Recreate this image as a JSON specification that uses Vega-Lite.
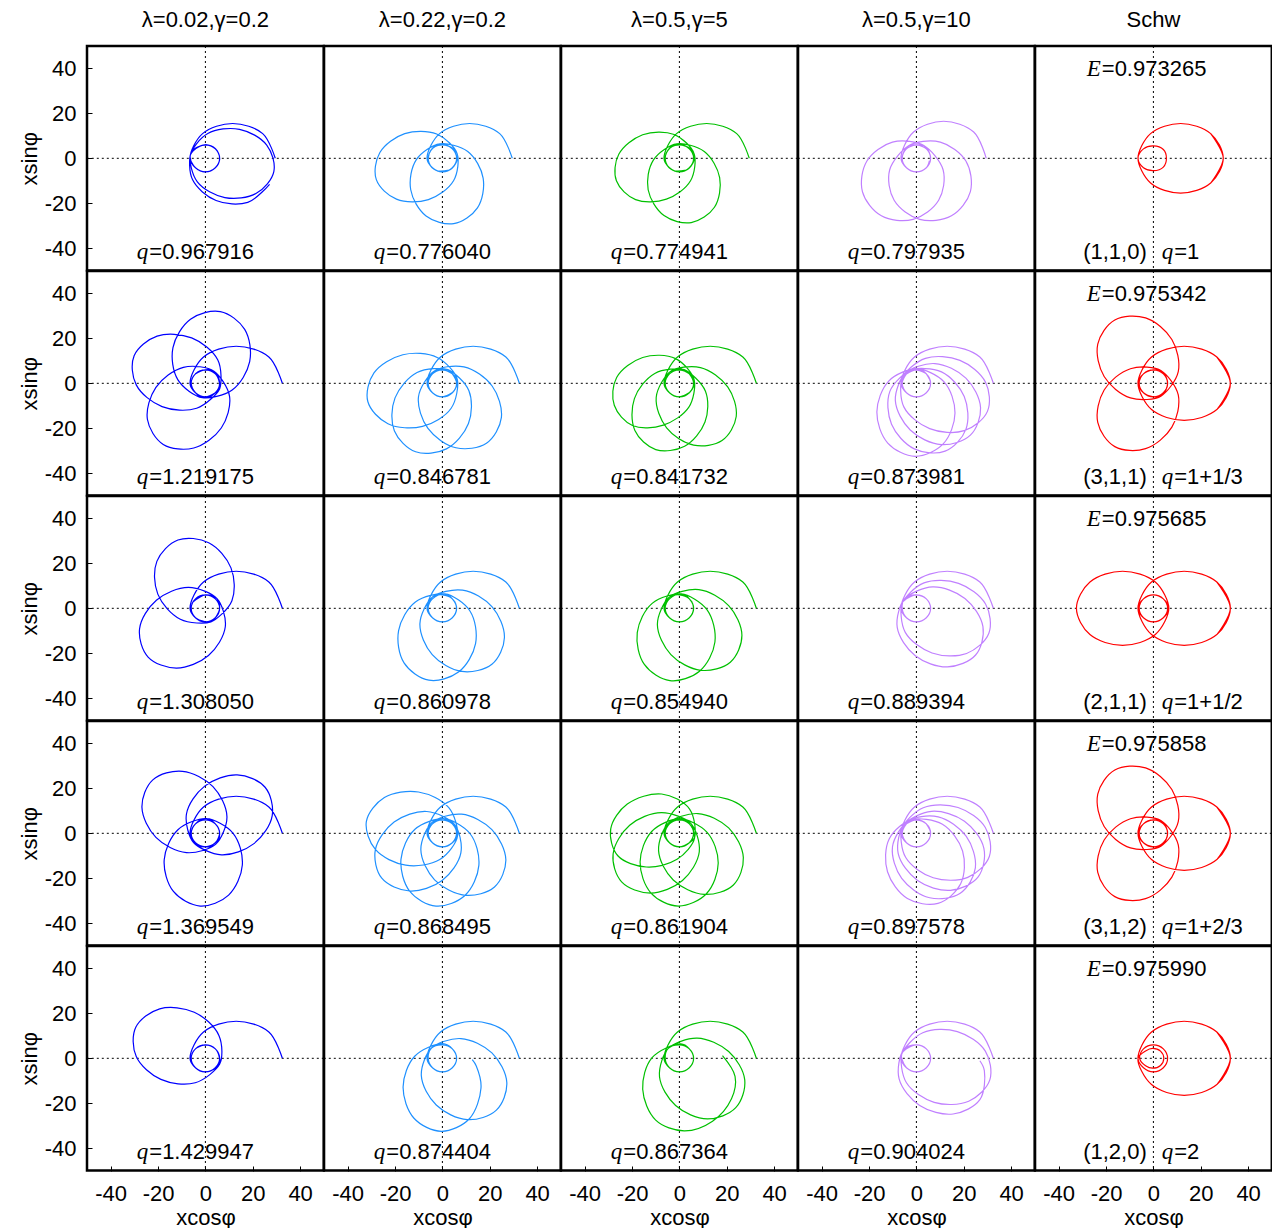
{
"$schema":"https://vega.github.io/schema/vega-lite/v6.json",
"padding":{"left":18,"top":9,"right":0,"bottom":0},
"background":"white",
"bounds":"flush",
"spacing":0,
"data":{"values":[
{"r":0,"c":0,"q":"=0.967916"},{"r":0,"c":1,"q":"=0.776040"},{"r":0,"c":2,"q":"=0.774941"},{"r":0,"c":3,"q":"=0.797935"},{"r":0,"c":4,"q":"=1","z":"(1,1,0)","e":"=0.973265"},
{"r":1,"c":0,"q":"=1.219175"},{"r":1,"c":1,"q":"=0.846781"},{"r":1,"c":2,"q":"=0.841732"},{"r":1,"c":3,"q":"=0.873981"},{"r":1,"c":4,"q":"=1+1/3","z":"(3,1,1)","e":"=0.975342"},
{"r":2,"c":0,"q":"=1.308050"},{"r":2,"c":1,"q":"=0.860978"},{"r":2,"c":2,"q":"=0.854940"},{"r":2,"c":3,"q":"=0.889394"},{"r":2,"c":4,"q":"=1+1/2","z":"(2,1,1)","e":"=0.975685"},
{"r":3,"c":0,"q":"=1.369549"},{"r":3,"c":1,"q":"=0.868495"},{"r":3,"c":2,"q":"=0.861904"},{"r":3,"c":3,"q":"=0.897578"},{"r":3,"c":4,"q":"=1+2/3","z":"(3,1,2)","e":"=0.975858"},
{"r":4,"c":0,"q":"=1.429947"},{"r":4,"c":1,"q":"=0.874404"},{"r":4,"c":2,"q":"=0.867364"},{"r":4,"c":3,"q":"=0.904024"},{"r":4,"c":4,"q":"=2","z":"(1,2,0)","e":"=0.975990"},

{"r":0,"c":0,"x":29.5,"y":0},{"r":0,"c":0,"x":24.2,"y":11},{"r":0,"c":0,"x":11.5,"y":15.5},{"r":0,"c":0,"x":-1.2,"y":11},{"r":0,"c":0,"x":-6.5,"y":0},{"r":0,"c":0,"x":-4.2,"y":-4.2},{"r":0,"c":0,"x":0,"y":-6},{"r":0,"c":0,"x":4.2,"y":-4.2},{"r":0,"c":0,"x":6,"y":0},{"r":0,"c":0,"x":4.2,"y":4.2},{"r":0,"c":0,"x":0,"y":6},{"r":0,"c":0,"x":-4.2,"y":4.2},{"r":0,"c":0,"x":-6.4,"y":1.3},{"r":0,"c":0,"x":-3.4,"y":-10.5},{"r":0,"c":0,"x":8.2,"y":-17.5},{"r":0,"c":0,"x":21.5,"y":-15.6},{"r":0,"c":0,"x":28.9,"y":-5.9},{"r":0,"c":0,"x":25.9,"y":5.9},{"r":0,"c":0,"x":14.4,"y":12.9},{"r":0,"c":0,"x":1,"y":11},{"r":0,"c":0,"x":-6.4,"y":1.3},{"r":0,"c":0,"x":-5,"y":-3.3},{"r":0,"c":0,"x":-1.2,"y":-5.9},{"r":0,"c":0,"x":3.3,"y":-5},{"r":0,"c":0,"x":5.9,"y":-1.2},{"r":0,"c":0,"x":5,"y":3.3},{"r":0,"c":0,"x":1.2,"y":5.9},{"r":0,"c":0,"x":-3.3,"y":5},{"r":0,"c":0,"x":-6,"y":2.6},{"r":0,"c":0,"x":-5.4,"y":-9.6},{"r":0,"c":0,"x":4.5,"y":-18.8},{"r":0,"c":0,"x":17.9,"y":-19.6},{"r":0,"c":0,"x":27.1,"y":-11.6},

{"r":0,"c":1,"x":29.5,"y":0},{"r":0,"c":1,"x":24.2,"y":11},{"r":0,"c":1,"x":11.5,"y":15.5},{"r":0,"c":1,"x":-1.2,"y":11},{"r":0,"c":1,"x":-6.5,"y":0},{"r":0,"c":1,"x":-4.2,"y":-4.2},{"r":0,"c":1,"x":0,"y":-6},{"r":0,"c":1,"x":4.2,"y":-4.2},{"r":0,"c":1,"x":6,"y":0},{"r":0,"c":1,"x":4.2,"y":4.2},{"r":0,"c":1,"x":-1.1,"y":6.4},{"r":0,"c":1,"x":-11,"y":-0.6},{"r":0,"c":1,"x":-13.4,"y":-13.9},{"r":0,"c":1,"x":-6.9,"y":-25.7},{"r":0,"c":1,"x":4.8,"y":-29.1},{"r":0,"c":1,"x":14.8,"y":-22.1},{"r":0,"c":1,"x":17.2,"y":-8.8},{"r":0,"c":1,"x":10.7,"y":3},{"r":0,"c":1,"x":-1.1,"y":6.4},{"r":0,"c":1,"x":-4.9,"y":3.5},{"r":0,"c":1,"x":-5.9,"y":-1},{"r":0,"c":1,"x":-3.5,"y":-4.9},{"r":0,"c":1,"x":1,"y":-5.9},{"r":0,"c":1,"x":4.9,"y":-3.5},{"r":0,"c":1,"x":6.2,"y":2.1},{"r":0,"c":1,"x":-2.4,"y":10.8},{"r":0,"c":1,"x":-15.9,"y":11},{"r":0,"c":1,"x":-26.4,"y":2.6},{"r":0,"c":1,"x":-27.9,"y":-9.5},{"r":0,"c":1,"x":-19.4,"y":-18.2},{"r":0,"c":1,"x":-5.9,"y":-18.4},{"r":0,"c":1,"x":4.7,"y":-10},{"r":0,"c":1,"x":6.2,"y":2.1},{"r":0,"c":1,"x":2.6,"y":5.4},{"r":0,"c":1,"x":-1.9,"y":5.7},{"r":0,"c":1,"x":-5.4,"y":2.6},{"r":0,"c":1,"x":-5.7,"y":-1.9},{"r":0,"c":1,"x":-2.6,"y":-5.4},{"r":0,"c":1,"x":2.8,"y":-5.3},

{"r":0,"c":2,"x":29.5,"y":0},{"r":0,"c":2,"x":24.2,"y":11},{"r":0,"c":2,"x":11.5,"y":15.5},{"r":0,"c":2,"x":-1.2,"y":11},{"r":0,"c":2,"x":-6.5,"y":0},{"r":0,"c":2,"x":-4.2,"y":-4.2},{"r":0,"c":2,"x":0,"y":-6},{"r":0,"c":2,"x":4.2,"y":-4.2},{"r":0,"c":2,"x":6,"y":0},{"r":0,"c":2,"x":4.2,"y":4.2},{"r":0,"c":2,"x":-1.1,"y":6.4},{"r":0,"c":2,"x":-11,"y":-0.8},{"r":0,"c":2,"x":-13.2,"y":-14},{"r":0,"c":2,"x":-6.5,"y":-25.5},{"r":0,"c":2,"x":5,"y":-28.6},{"r":0,"c":2,"x":14.8,"y":-21.8},{"r":0,"c":2,"x":17,"y":-8.6},{"r":0,"c":2,"x":10.5,"y":3},{"r":0,"c":2,"x":-1.1,"y":6.4},{"r":0,"c":2,"x":-4.9,"y":3.5},{"r":0,"c":2,"x":-5.9,"y":-1},{"r":0,"c":2,"x":-3.5,"y":-4.9},{"r":0,"c":2,"x":1,"y":-5.9},{"r":0,"c":2,"x":4.9,"y":-3.5},{"r":0,"c":2,"x":6.2,"y":2},{"r":0,"c":2,"x":-2.2,"y":10.6},{"r":0,"c":2,"x":-15.5,"y":10.5},{"r":0,"c":2,"x":-25.6,"y":1.8},{"r":0,"c":2,"x":-26.6,"y":-10},{"r":0,"c":2,"x":-18.5,"y":-18.4},{"r":0,"c":2,"x":-5.5,"y":-18.2},{"r":0,"c":2,"x":4.7,"y":-10},{"r":0,"c":2,"x":6.2,"y":2},{"r":0,"c":2,"x":2.6,"y":5.4},{"r":0,"c":2,"x":-1.9,"y":5.7},{"r":0,"c":2,"x":-5.4,"y":2.6},{"r":0,"c":2,"x":-5.7,"y":-1.9},{"r":0,"c":2,"x":-2.6,"y":-5.4},{"r":0,"c":2,"x":2.8,"y":-5.3},

{"r":0,"c":3,"x":29.5,"y":0},{"r":0,"c":3,"x":24.2,"y":11.7},{"r":0,"c":3,"x":11.5,"y":16.5},{"r":0,"c":3,"x":-1.2,"y":11.7},{"r":0,"c":3,"x":-6.5,"y":0},{"r":0,"c":3,"x":-4.2,"y":-4.2},{"r":0,"c":3,"x":0,"y":-6},{"r":0,"c":3,"x":4.2,"y":-4.2},{"r":0,"c":3,"x":6,"y":0},{"r":0,"c":3,"x":4.2,"y":4.2},{"r":0,"c":3,"x":0,"y":6},{"r":0,"c":3,"x":-3.3,"y":5.6},{"r":0,"c":3,"x":-11.3,"y":-5.2},{"r":0,"c":3,"x":-9.4,"y":-18.7},{"r":0,"c":3,"x":1.4,"y":-27.2},{"r":0,"c":3,"x":14.8,"y":-25.6},{"r":0,"c":3,"x":22.8,"y":-14.8},{"r":0,"c":3,"x":20.9,"y":-1.2},{"r":0,"c":3,"x":10.1,"y":7.2},{"r":0,"c":3,"x":-3.3,"y":5.6},{"r":0,"c":3,"x":-6,"y":0},{"r":0,"c":3,"x":-4.2,"y":-4.2},{"r":0,"c":3,"x":0,"y":-6},{"r":0,"c":3,"x":4.2,"y":-4.2},{"r":0,"c":3,"x":6,"y":0},{"r":0,"c":3,"x":3.3,"y":5.6},{"r":0,"c":3,"x":-10.1,"y":7.2},{"r":0,"c":3,"x":-20.9,"y":-1.2},{"r":0,"c":3,"x":-22.8,"y":-14.8},{"r":0,"c":3,"x":-14.8,"y":-25.6},{"r":0,"c":3,"x":-1.4,"y":-27.2},{"r":0,"c":3,"x":9.4,"y":-18.7},{"r":0,"c":3,"x":11.3,"y":-5.2},{"r":0,"c":3,"x":3.3,"y":5.6},{"r":0,"c":3,"x":0,"y":6},{"r":0,"c":3,"x":-4.2,"y":4.2},{"r":0,"c":3,"x":-6,"y":0},{"r":0,"c":3,"x":-4.2,"y":-4.2},{"r":0,"c":3,"x":0,"y":-6},{"r":0,"c":3,"x":4.2,"y":-4.2},{"r":0,"c":3,"x":5.5,"y":-1},

{"r":0,"c":4,"x":24.2,"y":-11},{"r":0,"c":4,"x":29.5,"y":0},{"r":0,"c":4,"x":24.2,"y":11},{"r":0,"c":4,"x":11.5,"y":15.5},{"r":0,"c":4,"x":-1.2,"y":11},{"r":0,"c":4,"x":-6.5,"y":0},{"r":0,"c":4,"x":-4.2,"y":-4.2},{"r":0,"c":4,"x":0,"y":-5.5},{"r":0,"c":4,"x":4.2,"y":-3.9},{"r":0,"c":4,"x":5.5,"y":0},{"r":0,"c":4,"x":4.2,"y":3.9},{"r":0,"c":4,"x":0,"y":5.5},{"r":0,"c":4,"x":-4.2,"y":4.2},{"r":0,"c":4,"x":-6.5,"y":0},{"r":0,"c":4,"x":-1.2,"y":-11},{"r":0,"c":4,"x":11.5,"y":-15.5},{"r":0,"c":4,"x":24.2,"y":-11},{"r":0,"c":4,"x":29.5,"y":0},{"r":0,"c":4,"x":24.2,"y":11},

{"r":1,"c":0,"x":32.5,"y":0},{"r":1,"c":0,"x":26.8,"y":11.7},{"r":1,"c":0,"x":13,"y":16.5},{"r":1,"c":0,"x":-0.8,"y":11.7},{"r":1,"c":0,"x":-6.5,"y":0},{"r":1,"c":0,"x":-4.2,"y":-4.2},{"r":1,"c":0,"x":0,"y":-6},{"r":1,"c":0,"x":4.2,"y":-4.2},{"r":1,"c":0,"x":6,"y":0},{"r":1,"c":0,"x":4.2,"y":4.2},{"r":1,"c":0,"x":0,"y":6},{"r":1,"c":0,"x":-4.2,"y":4.2},{"r":1,"c":0,"x":-6,"y":0},{"r":1,"c":0,"x":-4.2,"y":-4.2},{"r":1,"c":0,"x":-1.3,"y":-6.4},{"r":1,"c":0,"x":11.3,"y":-3},{"r":1,"c":0,"x":18.7,"y":9.6},{"r":1,"c":0,"x":16.6,"y":24},{"r":1,"c":0,"x":6.3,"y":31.9},{"r":1,"c":0,"x":-6.3,"y":28.5},{"r":1,"c":0,"x":-13.7,"y":15.9},{"r":1,"c":0,"x":-11.6,"y":1.5},{"r":1,"c":0,"x":-1.3,"y":-6.4},{"r":1,"c":0,"x":4.2,"y":-4.2},{"r":1,"c":0,"x":6,"y":0},{"r":1,"c":0,"x":4.2,"y":4.2},{"r":1,"c":0,"x":0,"y":6},{"r":1,"c":0,"x":-4.2,"y":4.2},{"r":1,"c":0,"x":-6,"y":0},{"r":1,"c":0,"x":-4.2,"y":-4.2},{"r":1,"c":0,"x":0,"y":-6},{"r":1,"c":0,"x":4.2,"y":-4.2},{"r":1,"c":0,"x":6,"y":-2.5},{"r":1,"c":0,"x":5.2,"y":10.5},{"r":1,"c":0,"x":-5.8,"y":20.2},{"r":1,"c":0,"x":-20.4,"y":21},{"r":1,"c":0,"x":-30.1,"y":12.3},{"r":1,"c":0,"x":-29.2,"y":-0.7},{"r":1,"c":0,"x":-18.3,"y":-10.4},{"r":1,"c":0,"x":-3.7,"y":-11.1},{"r":1,"c":0,"x":6,"y":-2.5},{"r":1,"c":0,"x":6,"y":0},{"r":1,"c":0,"x":4.2,"y":4.2},{"r":1,"c":0,"x":0,"y":6},{"r":1,"c":0,"x":-4.2,"y":4.2},{"r":1,"c":0,"x":-6,"y":0},{"r":1,"c":0,"x":-4.2,"y":-4.2},{"r":1,"c":0,"x":0,"y":-6},{"r":1,"c":0,"x":4.2,"y":-4.2},{"r":1,"c":0,"x":6,"y":0},{"r":1,"c":0,"x":3.6,"y":5.4},{"r":1,"c":0,"x":-9.3,"y":7.1},{"r":1,"c":0,"x":-20.9,"y":-1.8},{"r":1,"c":0,"x":-24.5,"y":-16},{"r":1,"c":0,"x":-17.8,"y":-27.2},{"r":1,"c":0,"x":-4.9,"y":-28.8},{"r":1,"c":0,"x":6.7,"y":-19.9},{"r":1,"c":0,"x":10.2,"y":-5.8},{"r":1,"c":0,"x":3.6,"y":5.4},{"r":1,"c":0,"x":0,"y":6},{"r":1,"c":0,"x":-4.2,"y":4.2},{"r":1,"c":0,"x":-6,"y":0},{"r":1,"c":0,"x":-4.2,"y":-4.2},{"r":1,"c":0,"x":0,"y":-6},{"r":1,"c":0,"x":4.2,"y":-4.2},{"r":1,"c":0,"x":6,"y":0},{"r":1,"c":0,"x":4.2,"y":4.2},{"r":1,"c":0,"x":0,"y":6},{"r":1,"c":0,"x":-4.3,"y":4.2},

{"r":1,"c":1,"x":32.5,"y":0},{"r":1,"c":1,"x":26.8,"y":11.7},{"r":1,"c":1,"x":13,"y":16.5},{"r":1,"c":1,"x":-0.8,"y":11.7},{"r":1,"c":1,"x":-6.5,"y":0},{"r":1,"c":1,"x":-4.2,"y":-4.2},{"r":1,"c":1,"x":0,"y":-6},{"r":1,"c":1,"x":4.2,"y":-4.2},{"r":1,"c":1,"x":6,"y":0},{"r":1,"c":1,"x":4.2,"y":4.2},{"r":1,"c":1,"x":0,"y":6},{"r":1,"c":1,"x":-3.7,"y":5.3},{"r":1,"c":1,"x":-10.1,"y":-6},{"r":1,"c":1,"x":-6.1,"y":-20.1},{"r":1,"c":1,"x":5.7,"y":-28.7},{"r":1,"c":1,"x":18.6,"y":-26.7},{"r":1,"c":1,"x":24.9,"y":-15.3},{"r":1,"c":1,"x":21,"y":-1.2},{"r":1,"c":1,"x":9.1,"y":7.3},{"r":1,"c":1,"x":-3.7,"y":5.3},{"r":1,"c":1,"x":-6,"y":0},{"r":1,"c":1,"x":-4.2,"y":-4.2},{"r":1,"c":1,"x":0,"y":-6},{"r":1,"c":1,"x":4.2,"y":-4.2},{"r":1,"c":1,"x":6,"y":0},{"r":1,"c":1,"x":4.2,"y":4.2},{"r":1,"c":1,"x":2.3,"y":6.1},{"r":1,"c":1,"x":-10.7,"y":4.8},{"r":1,"c":1,"x":-20,"y":-6.5},{"r":1,"c":1,"x":-20.3,"y":-21.1},{"r":1,"c":1,"x":-11.3,"y":-30.5},{"r":1,"c":1,"x":1.7,"y":-29.2},{"r":1,"c":1,"x":11,"y":-17.9},{"r":1,"c":1,"x":11.2,"y":-3.3},{"r":1,"c":1,"x":2.3,"y":6.1},{"r":1,"c":1,"x":-1,"y":6},{"r":1,"c":1,"x":-4.2,"y":4.2},{"r":1,"c":1,"x":-6,"y":0},{"r":1,"c":1,"x":-4.2,"y":-4.2},{"r":1,"c":1,"x":0,"y":-6},{"r":1,"c":1,"x":4.2,"y":-4.2},{"r":1,"c":1,"x":6.3,"y":1.6},{"r":1,"c":1,"x":-2.2,"y":11.5},{"r":1,"c":1,"x":-16.7,"y":12.7},{"r":1,"c":1,"x":-28.9,"y":4.6},{"r":1,"c":1,"x":-31.5,"y":-8.1},{"r":1,"c":1,"x":-23,"y":-18},{"r":1,"c":1,"x":-8.4,"y":-19.2},{"r":1,"c":1,"x":3.7,"y":-11.1},{"r":1,"c":1,"x":6.3,"y":1.6},{"r":1,"c":1,"x":4.2,"y":4.2},{"r":1,"c":1,"x":0,"y":6},{"r":1,"c":1,"x":-4.2,"y":4.2},{"r":1,"c":1,"x":-6,"y":0},{"r":1,"c":1,"x":-4.2,"y":-4.2},{"r":1,"c":1,"x":0,"y":-6},{"r":1,"c":1,"x":4.6,"y":-3.9},

{"r":1,"c":2,"x":32.5,"y":0},{"r":1,"c":2,"x":26.8,"y":11.7},{"r":1,"c":2,"x":13,"y":16.5},{"r":1,"c":2,"x":-0.8,"y":11.7},{"r":1,"c":2,"x":-6.5,"y":0},{"r":1,"c":2,"x":-4.2,"y":-4.2},{"r":1,"c":2,"x":0,"y":-6},{"r":1,"c":2,"x":4.2,"y":-4.2},{"r":1,"c":2,"x":6,"y":0},{"r":1,"c":2,"x":4.2,"y":4.2},{"r":1,"c":2,"x":0,"y":6},{"r":1,"c":2,"x":-3.9,"y":5.2},{"r":1,"c":2,"x":-9.8,"y":-6.3},{"r":1,"c":2,"x":-5.4,"y":-19.8},{"r":1,"c":2,"x":6,"y":-27.5},{"r":1,"c":2,"x":18,"y":-25.5},{"r":1,"c":2,"x":24,"y":-14.8},{"r":1,"c":2,"x":20.4,"y":-1.6},{"r":1,"c":2,"x":8.9,"y":7},{"r":1,"c":2,"x":-3.9,"y":5.2},{"r":1,"c":2,"x":-6,"y":0},{"r":1,"c":2,"x":-4.2,"y":-4.2},{"r":1,"c":2,"x":0,"y":-6},{"r":1,"c":2,"x":4.2,"y":-4.2},{"r":1,"c":2,"x":6,"y":0},{"r":1,"c":2,"x":4.2,"y":4.2},{"r":1,"c":2,"x":2,"y":6.1},{"r":1,"c":2,"x":-10.4,"y":4.4},{"r":1,"c":2,"x":-19,"y":-6.8},{"r":1,"c":2,"x":-18.8,"y":-21},{"r":1,"c":2,"x":-10,"y":-29.5},{"r":1,"c":2,"x":2.2,"y":-28},{"r":1,"c":2,"x":10.8,"y":-17.2},{"r":1,"c":2,"x":11,"y":-3.5},{"r":1,"c":2,"x":2,"y":6.1},{"r":1,"c":2,"x":-1,"y":6},{"r":1,"c":2,"x":-4.2,"y":4.2},{"r":1,"c":2,"x":-6,"y":0},{"r":1,"c":2,"x":-4.2,"y":-4.2},{"r":1,"c":2,"x":0,"y":-6},{"r":1,"c":2,"x":4.2,"y":-4.2},{"r":1,"c":2,"x":6.3,"y":1.2},{"r":1,"c":2,"x":-1.6,"y":11},{"r":1,"c":2,"x":-15.5,"y":11.5},{"r":1,"c":2,"x":-26.5,"y":2.6},{"r":1,"c":2,"x":-27.5,"y":-9.8},{"r":1,"c":2,"x":-19.8,"y":-18.8},{"r":1,"c":2,"x":-6.8,"y":-18.6},{"r":1,"c":2,"x":4,"y":-10.6},{"r":1,"c":2,"x":6.3,"y":1.2},{"r":1,"c":2,"x":4.2,"y":4.2},{"r":1,"c":2,"x":0,"y":6},{"r":1,"c":2,"x":-4.2,"y":4.2},{"r":1,"c":2,"x":-6,"y":0},{"r":1,"c":2,"x":-4.2,"y":-4.2},{"r":1,"c":2,"x":0,"y":-6},{"r":1,"c":2,"x":4.6,"y":-3.9},

{"r":1,"c":3,"x":32.5,"y":0},{"r":1,"c":3,"x":26.8,"y":11.7},{"r":1,"c":3,"x":13,"y":16.5},{"r":1,"c":3,"x":-0.8,"y":11.7},{"r":1,"c":3,"x":-6.5,"y":0},{"r":1,"c":3,"x":-4.2,"y":-4.2},{"r":1,"c":3,"x":0,"y":-6},{"r":1,"c":3,"x":4.2,"y":-4.2},{"r":1,"c":3,"x":6,"y":0},{"r":1,"c":3,"x":4.2,"y":4.2},{"r":1,"c":3,"x":0,"y":6},{"r":1,"c":3,"x":-4.2,"y":4.2},{"r":1,"c":3,"x":-6,"y":2.5},{"r":1,"c":3,"x":-5.3,"y":-10.5},{"r":1,"c":3,"x":5.6,"y":-20.2},{"r":1,"c":3,"x":20.2,"y":-21.1},{"r":1,"c":3,"x":30,"y":-12.5},{"r":1,"c":3,"x":29.2,"y":0.5},{"r":1,"c":3,"x":18.4,"y":10.2},{"r":1,"c":3,"x":3.8,"y":11.1},{"r":1,"c":3,"x":-6,"y":2.5},{"r":1,"c":3,"x":-5.9,"y":-1},{"r":1,"c":3,"x":-4.2,"y":-4.2},{"r":1,"c":3,"x":0,"y":-6},{"r":1,"c":3,"x":4.2,"y":-4.2},{"r":1,"c":3,"x":6,"y":0},{"r":1,"c":3,"x":4.2,"y":4.2},{"r":1,"c":3,"x":0,"y":6},{"r":1,"c":3,"x":-4.6,"y":4.6},{"r":1,"c":3,"x":-8.9,"y":-7.6},{"r":1,"c":3,"x":-2.6,"y":-20.8},{"r":1,"c":3,"x":10.5,"y":-27.3},{"r":1,"c":3,"x":22.8,"y":-23.1},{"r":1,"c":3,"x":27.1,"y":-10.9},{"r":1,"c":3,"x":20.9,"y":2.3},{"r":1,"c":3,"x":7.8,"y":8.8},{"r":1,"c":3,"x":-4.6,"y":4.6},{"r":1,"c":3,"x":-6,"y":0},{"r":1,"c":3,"x":-4.2,"y":-4.2},{"r":1,"c":3,"x":0,"y":-6},{"r":1,"c":3,"x":4.2,"y":-4.2},{"r":1,"c":3,"x":6,"y":0},{"r":1,"c":3,"x":4.2,"y":4.2},{"r":1,"c":3,"x":0,"y":6},{"r":1,"c":3,"x":-2.4,"y":6},{"r":1,"c":3,"x":-11.2,"y":-3.6},{"r":1,"c":3,"x":-10.5,"y":-18.2},{"r":1,"c":3,"x":-0.9,"y":-29.2},{"r":1,"c":3,"x":12.1,"y":-30.2},{"r":1,"c":3,"x":20.9,"y":-20.5},{"r":1,"c":3,"x":20.2,"y":-5.9},{"r":1,"c":3,"x":10.6,"y":5.1},{"r":1,"c":3,"x":-2.4,"y":6},{"r":1,"c":3,"x":-4.2,"y":4.2},{"r":1,"c":3,"x":-6,"y":0},{"r":1,"c":3,"x":-4.2,"y":-4.2},{"r":1,"c":3,"x":0,"y":-6},{"r":1,"c":3,"x":4.2,"y":-4.2},{"r":1,"c":3,"x":6,"y":0},{"r":1,"c":3,"x":4.2,"y":4.2},{"r":1,"c":3,"x":0.1,"y":6.5},{"r":1,"c":3,"x":-11.7,"y":1},{"r":1,"c":3,"x":-16.7,"y":-12.8},{"r":1,"c":3,"x":-12.1,"y":-26.6},{"r":1,"c":3,"x":-0.5,"y":-32.5},{"r":1,"c":3,"x":11.3,"y":-27},{"r":1,"c":3,"x":16.3,"y":-13.2},{"r":1,"c":3,"x":11.7,"y":0.6},{"r":1,"c":3,"x":0.1,"y":6.5},{"r":1,"c":3,"x":-4.2,"y":4.2},{"r":1,"c":3,"x":-6,"y":0},{"r":1,"c":3,"x":-4.2,"y":-4.2},{"r":1,"c":3,"x":0,"y":-6},{"r":1,"c":3,"x":4.2,"y":-4.2},{"r":1,"c":3,"x":6,"y":0},{"r":1,"c":3,"x":4.2,"y":4.2},

{"r":1,"c":4,"x":26.8,"y":-11.7},{"r":1,"c":4,"x":32.5,"y":0},{"r":1,"c":4,"x":26.8,"y":11.7},{"r":1,"c":4,"x":13,"y":16.5},{"r":1,"c":4,"x":-0.8,"y":11.7},{"r":1,"c":4,"x":-6.5,"y":0},{"r":1,"c":4,"x":-4.2,"y":-4.2},{"r":1,"c":4,"x":0,"y":-6},{"r":1,"c":4,"x":4.2,"y":-4.2},{"r":1,"c":4,"x":6,"y":0},{"r":1,"c":4,"x":4.2,"y":4.2},{"r":1,"c":4,"x":0,"y":6},{"r":1,"c":4,"x":-4.2,"y":4.2},{"r":1,"c":4,"x":-6,"y":0},{"r":1,"c":4,"x":-4.2,"y":-4.2},{"r":1,"c":4,"x":0,"y":-6},{"r":1,"c":4,"x":3.3,"y":-5.6},{"r":1,"c":4,"x":10.5,"y":5.2},{"r":1,"c":4,"x":7.8,"y":19.5},{"r":1,"c":4,"x":-3.3,"y":29.1},{"r":1,"c":4,"x":-16.3,"y":28.2},{"r":1,"c":4,"x":-23.5,"y":17.4},{"r":1,"c":4,"x":-20.8,"y":3},{"r":1,"c":4,"x":-9.7,"y":-6.5},{"r":1,"c":4,"x":3.3,"y":-5.6},{"r":1,"c":4,"x":6,"y":0},{"r":1,"c":4,"x":4.2,"y":4.2},{"r":1,"c":4,"x":0,"y":6},{"r":1,"c":4,"x":-4.2,"y":4.2},{"r":1,"c":4,"x":-6,"y":0},{"r":1,"c":4,"x":-4.2,"y":-4.2},{"r":1,"c":4,"x":0,"y":-6},{"r":1,"c":4,"x":4.2,"y":-4.2},{"r":1,"c":4,"x":6,"y":0},{"r":1,"c":4,"x":3.3,"y":5.6},{"r":1,"c":4,"x":-9.7,"y":6.5},{"r":1,"c":4,"x":-20.8,"y":-3},{"r":1,"c":4,"x":-23.5,"y":-17.4},{"r":1,"c":4,"x":-16.3,"y":-28.2},{"r":1,"c":4,"x":-3.3,"y":-29.1},{"r":1,"c":4,"x":7.8,"y":-19.5},{"r":1,"c":4,"x":10.5,"y":-5.2},{"r":1,"c":4,"x":3.3,"y":5.6},{"r":1,"c":4,"x":0,"y":6},{"r":1,"c":4,"x":-4.2,"y":4.2},{"r":1,"c":4,"x":-6,"y":0},{"r":1,"c":4,"x":-4.2,"y":-4.2},{"r":1,"c":4,"x":0,"y":-6},{"r":1,"c":4,"x":4.2,"y":-4.2},{"r":1,"c":4,"x":6,"y":0},{"r":1,"c":4,"x":4.2,"y":4.2},{"r":1,"c":4,"x":0,"y":6},{"r":1,"c":4,"x":-4.2,"y":4.2},{"r":1,"c":4,"x":-6.5,"y":0},{"r":1,"c":4,"x":-0.8,"y":-11.7},{"r":1,"c":4,"x":13,"y":-16.5},{"r":1,"c":4,"x":26.8,"y":-11.7},{"r":1,"c":4,"x":32.5,"y":0},{"r":1,"c":4,"x":26.8,"y":11.7},

{"r":2,"c":0,"x":32.5,"y":0},{"r":2,"c":0,"x":26.8,"y":11.7},{"r":2,"c":0,"x":13,"y":16.5},{"r":2,"c":0,"x":-0.8,"y":11.7},{"r":2,"c":0,"x":-6.5,"y":0},{"r":2,"c":0,"x":-4.2,"y":-4.2},{"r":2,"c":0,"x":0,"y":-6},{"r":2,"c":0,"x":4.2,"y":-4.2},{"r":2,"c":0,"x":6,"y":0},{"r":2,"c":0,"x":4.2,"y":4.2},{"r":2,"c":0,"x":0,"y":6},{"r":2,"c":0,"x":-4.2,"y":4.2},{"r":2,"c":0,"x":-6,"y":0},{"r":2,"c":0,"x":-4.2,"y":-4.2},{"r":2,"c":0,"x":0,"y":-6},{"r":2,"c":0,"x":2.3,"y":-6.1},{"r":2,"c":0,"x":11.2,"y":3.4},{"r":2,"c":0,"x":10.8,"y":18},{"r":2,"c":0,"x":1.4,"y":29.2},{"r":2,"c":0,"x":-11.6,"y":30.4},{"r":2,"c":0,"x":-20.5,"y":20.9},{"r":2,"c":0,"x":-20.1,"y":6.3},{"r":2,"c":0,"x":-10.6,"y":-4.9},{"r":2,"c":0,"x":2.3,"y":-6.1},{"r":2,"c":0,"x":4.2,"y":-4.2},{"r":2,"c":0,"x":6,"y":0},{"r":2,"c":0,"x":4.2,"y":4.2},{"r":2,"c":0,"x":0,"y":6},{"r":2,"c":0,"x":-4.2,"y":4.2},{"r":2,"c":0,"x":-6,"y":0},{"r":2,"c":0,"x":-4.2,"y":-4.2},{"r":2,"c":0,"x":0,"y":-6},{"r":2,"c":0,"x":4.2,"y":-4.2},{"r":2,"c":0,"x":6,"y":0},{"r":2,"c":0,"x":4.9,"y":4.3},{"r":2,"c":0,"x":-7.2,"y":9.3},{"r":2,"c":0,"x":-20.7,"y":3.6},{"r":2,"c":0,"x":-27.8,"y":-9.1},{"r":2,"c":0,"x":-24.2,"y":-21.7},{"r":2,"c":0,"x":-12.2,"y":-26.6},{"r":2,"c":0,"x":1.3,"y":-21},{"r":2,"c":0,"x":8.4,"y":-8.2},{"r":2,"c":0,"x":4.9,"y":4.3},{"r":2,"c":0,"x":0,"y":6},{"r":2,"c":0,"x":-4.2,"y":4.2},{"r":2,"c":0,"x":-6,"y":0},{"r":2,"c":0,"x":-4.2,"y":-4.2},{"r":2,"c":0,"x":0,"y":-6},{"r":2,"c":0,"x":4.2,"y":-4.2},{"r":2,"c":0,"x":6,"y":0},{"r":2,"c":0,"x":4.2,"y":4.2},{"r":2,"c":0,"x":0,"y":6},{"r":2,"c":0,"x":-5.3,"y":2.8},

{"r":2,"c":1,"x":32.5,"y":0},{"r":2,"c":1,"x":26.8,"y":11.7},{"r":2,"c":1,"x":13,"y":16.5},{"r":2,"c":1,"x":-0.8,"y":11.7},{"r":2,"c":1,"x":-6.5,"y":0},{"r":2,"c":1,"x":-4.2,"y":-4.2},{"r":2,"c":1,"x":0,"y":-6},{"r":2,"c":1,"x":4.2,"y":-4.2},{"r":2,"c":1,"x":6,"y":0},{"r":2,"c":1,"x":4.2,"y":4.2},{"r":2,"c":1,"x":0,"y":6},{"r":2,"c":1,"x":-4.2,"y":5},{"r":2,"c":1,"x":-9.5,"y":-6.9},{"r":2,"c":1,"x":-4.3,"y":-20.6},{"r":2,"c":1,"x":8.2,"y":-28.1},{"r":2,"c":1,"x":20.9,"y":-24.9},{"r":2,"c":1,"x":26.2,"y":-13},{"r":2,"c":1,"x":21,"y":0.6},{"r":2,"c":1,"x":8.5,"y":8.1},{"r":2,"c":1,"x":-4.2,"y":5},{"r":2,"c":1,"x":-6,"y":0},{"r":2,"c":1,"x":-4.2,"y":-4.2},{"r":2,"c":1,"x":0,"y":-6},{"r":2,"c":1,"x":4.2,"y":-4.2},{"r":2,"c":1,"x":6,"y":0},{"r":2,"c":1,"x":4.2,"y":4.2},{"r":2,"c":1,"x":1.1,"y":6.4},{"r":2,"c":1,"x":-11.4,"y":2.8},{"r":2,"c":1,"x":-18.5,"y":-9.9},{"r":2,"c":1,"x":-16.2,"y":-24.3},{"r":2,"c":1,"x":-5.7,"y":-32},{"r":2,"c":1,"x":6.8,"y":-28.4},{"r":2,"c":1,"x":14,"y":-15.7},{"r":2,"c":1,"x":11.7,"y":-1.3},{"r":2,"c":1,"x":1.1,"y":6.4},{"r":2,"c":1,"x":-4.2,"y":4.2},{"r":2,"c":1,"x":-6,"y":0},{"r":2,"c":1,"x":-4.2,"y":-4.2},{"r":2,"c":1,"x":0,"y":-6},{"r":2,"c":1,"x":4.2,"y":-4.2},{"r":2,"c":1,"x":6,"y":0},{"r":2,"c":1,"x":5.2,"y":3},

{"r":2,"c":2,"x":32.5,"y":0},{"r":2,"c":2,"x":26.8,"y":11.7},{"r":2,"c":2,"x":13,"y":16.5},{"r":2,"c":2,"x":-0.8,"y":11.7},{"r":2,"c":2,"x":-6.5,"y":0},{"r":2,"c":2,"x":-4.2,"y":-4.2},{"r":2,"c":2,"x":0,"y":-6},{"r":2,"c":2,"x":4.2,"y":-4.2},{"r":2,"c":2,"x":6,"y":0},{"r":2,"c":2,"x":4.2,"y":4.2},{"r":2,"c":2,"x":0,"y":6},{"r":2,"c":2,"x":-4.4,"y":4.8},{"r":2,"c":2,"x":-9.3,"y":-7.2},{"r":2,"c":2,"x":-3.6,"y":-20.6},{"r":2,"c":2,"x":9,"y":-27.6},{"r":2,"c":2,"x":21.5,"y":-24},{"r":2,"c":2,"x":26.4,"y":-12},{"r":2,"c":2,"x":20.8,"y":1.2},{"r":2,"c":2,"x":8.2,"y":8.3},{"r":2,"c":2,"x":-4.4,"y":4.8},{"r":2,"c":2,"x":-6,"y":0},{"r":2,"c":2,"x":-4.2,"y":-4.2},{"r":2,"c":2,"x":0,"y":-6},{"r":2,"c":2,"x":4.2,"y":-4.2},{"r":2,"c":2,"x":6,"y":0},{"r":2,"c":2,"x":4.2,"y":4.2},{"r":2,"c":2,"x":0.8,"y":6.4},{"r":2,"c":2,"x":-11.5,"y":2.2},{"r":2,"c":2,"x":-17.8,"y":-10.8},{"r":2,"c":2,"x":-14.8,"y":-25},{"r":2,"c":2,"x":-4,"y":-32.2},{"r":2,"c":2,"x":8.5,"y":-28},{"r":2,"c":2,"x":15,"y":-15},{"r":2,"c":2,"x":11.7,"y":-0.7},{"r":2,"c":2,"x":0.8,"y":6.4},{"r":2,"c":2,"x":-4.2,"y":4.2},{"r":2,"c":2,"x":-6,"y":0},{"r":2,"c":2,"x":-4.2,"y":-4.2},{"r":2,"c":2,"x":0,"y":-6},{"r":2,"c":2,"x":4.2,"y":-4.2},{"r":2,"c":2,"x":6,"y":0},{"r":2,"c":2,"x":5.2,"y":3},

{"r":2,"c":3,"x":32.5,"y":0},{"r":2,"c":3,"x":26.8,"y":11.7},{"r":2,"c":3,"x":13,"y":16.5},{"r":2,"c":3,"x":-0.8,"y":11.7},{"r":2,"c":3,"x":-6.5,"y":0},{"r":2,"c":3,"x":-4.2,"y":-4.2},{"r":2,"c":3,"x":0,"y":-6},{"r":2,"c":3,"x":4.2,"y":-4.2},{"r":2,"c":3,"x":6,"y":0},{"r":2,"c":3,"x":4.2,"y":4.2},{"r":2,"c":3,"x":0,"y":6},{"r":2,"c":3,"x":-4.2,"y":4.2},{"r":2,"c":3,"x":-6.1,"y":2.2},{"r":2,"c":3,"x":-4.7,"y":-10.7},{"r":2,"c":3,"x":6.6,"y":-19.9},{"r":2,"c":3,"x":21.2,"y":-20.1},{"r":2,"c":3,"x":30.6,"y":-11.1},{"r":2,"c":3,"x":29.2,"y":1.9},{"r":2,"c":3,"x":17.8,"y":11.1},{"r":2,"c":3,"x":3.2,"y":11.3},{"r":2,"c":3,"x":-6.1,"y":2.2},{"r":2,"c":3,"x":-5.9,"y":-1},{"r":2,"c":3,"x":-4.2,"y":-4.2},{"r":2,"c":3,"x":0,"y":-6},{"r":2,"c":3,"x":4.2,"y":-4.2},{"r":2,"c":3,"x":6,"y":0},{"r":2,"c":3,"x":4.2,"y":4.2},{"r":2,"c":3,"x":0,"y":6},{"r":2,"c":3,"x":-5,"y":4.2},{"r":2,"c":3,"x":-8.1,"y":-8.5},{"r":2,"c":3,"x":-0.6,"y":-21},{"r":2,"c":3,"x":13.1,"y":-26.1},{"r":2,"c":3,"x":25,"y":-20.8},{"r":2,"c":3,"x":28.1,"y":-8.2},{"r":2,"c":3,"x":20.5,"y":4.4},{"r":2,"c":3,"x":6.9,"y":9.5},{"r":2,"c":3,"x":-5,"y":4.2},{"r":2,"c":3,"x":-6,"y":0},{"r":2,"c":3,"x":-4.2,"y":-4.2},{"r":2,"c":3,"x":0,"y":-6},{"r":2,"c":3,"x":4.2,"y":-4.2},{"r":2,"c":3,"x":6,"y":0},{"r":2,"c":3,"x":4.2,"y":4.2},{"r":2,"c":3,"x":0,"y":6},{"r":2,"c":3,"x":-3,"y":5.2},

{"r":2,"c":4,"x":26.8,"y":-11.7},{"r":2,"c":4,"x":32.5,"y":0},{"r":2,"c":4,"x":26.8,"y":11.7},{"r":2,"c":4,"x":13,"y":16.5},{"r":2,"c":4,"x":-0.8,"y":11.7},{"r":2,"c":4,"x":-6.5,"y":0},{"r":2,"c":4,"x":-4.2,"y":-4.2},{"r":2,"c":4,"x":0,"y":-6},{"r":2,"c":4,"x":4.2,"y":-4.2},{"r":2,"c":4,"x":6,"y":0},{"r":2,"c":4,"x":4.2,"y":4.2},{"r":2,"c":4,"x":0,"y":6},{"r":2,"c":4,"x":-4.2,"y":4.2},{"r":2,"c":4,"x":-6,"y":0},{"r":2,"c":4,"x":-4.2,"y":-4.2},{"r":2,"c":4,"x":0,"y":-6},{"r":2,"c":4,"x":4.2,"y":-4.2},{"r":2,"c":4,"x":6.5,"y":0},{"r":2,"c":4,"x":0.8,"y":11.7},{"r":2,"c":4,"x":-13,"y":16.5},{"r":2,"c":4,"x":-26.8,"y":11.7},{"r":2,"c":4,"x":-32.5,"y":0},{"r":2,"c":4,"x":-26.8,"y":-11.7},{"r":2,"c":4,"x":-13,"y":-16.5},{"r":2,"c":4,"x":0.8,"y":-11.7},{"r":2,"c":4,"x":6.5,"y":0},{"r":2,"c":4,"x":4.2,"y":4.2},{"r":2,"c":4,"x":0,"y":6},{"r":2,"c":4,"x":-4.2,"y":4.2},{"r":2,"c":4,"x":-6,"y":0},{"r":2,"c":4,"x":-4.2,"y":-4.2},{"r":2,"c":4,"x":0,"y":-6},{"r":2,"c":4,"x":4.2,"y":-4.2},{"r":2,"c":4,"x":6,"y":0},{"r":2,"c":4,"x":4.2,"y":4.2},{"r":2,"c":4,"x":0,"y":6},{"r":2,"c":4,"x":-4.2,"y":4.2},{"r":2,"c":4,"x":-6.5,"y":0},{"r":2,"c":4,"x":-0.8,"y":-11.7},{"r":2,"c":4,"x":13,"y":-16.5},{"r":2,"c":4,"x":26.8,"y":-11.7},{"r":2,"c":4,"x":32.5,"y":0},{"r":2,"c":4,"x":26.8,"y":11.7},

{"r":3,"c":0,"x":32.5,"y":0},{"r":3,"c":0,"x":26.8,"y":11.7},{"r":3,"c":0,"x":13,"y":16.5},{"r":3,"c":0,"x":-0.8,"y":11.7},{"r":3,"c":0,"x":-6.5,"y":0},{"r":3,"c":0,"x":-4.2,"y":-4.2},{"r":3,"c":0,"x":0,"y":-6},{"r":3,"c":0,"x":4.2,"y":-4.2},{"r":3,"c":0,"x":6,"y":0},{"r":3,"c":0,"x":4.2,"y":4.2},{"r":3,"c":0,"x":0,"y":6},{"r":3,"c":0,"x":-4.2,"y":4.2},{"r":3,"c":0,"x":-6,"y":0},{"r":3,"c":0,"x":-4.2,"y":-4.2},{"r":3,"c":0,"x":0,"y":-6},{"r":3,"c":0,"x":4.4,"y":-4.8},{"r":3,"c":0,"x":9.1,"y":7.4},{"r":3,"c":0,"x":3.2,"y":20.8},{"r":3,"c":0,"x":-9.7,"y":27.6},{"r":3,"c":0,"x":-22.2,"y":23.8},{"r":3,"c":0,"x":-26.8,"y":11.6},{"r":3,"c":0,"x":-20.9,"y":-1.8},{"r":3,"c":0,"x":-8,"y":-8.6},{"r":3,"c":0,"x":4.4,"y":-4.8},{"r":3,"c":0,"x":6,"y":0},{"r":3,"c":0,"x":4.2,"y":4.2},{"r":3,"c":0,"x":0,"y":6},{"r":3,"c":0,"x":-4.2,"y":4.2},{"r":3,"c":0,"x":-6,"y":0},{"r":3,"c":0,"x":-4.2,"y":-4.2},{"r":3,"c":0,"x":0,"y":-6},{"r":3,"c":0,"x":4.2,"y":-4.2},{"r":3,"c":0,"x":6,"y":0},{"r":3,"c":0,"x":4.2,"y":4.2},{"r":3,"c":0,"x":0.4,"y":6.5},{"r":3,"c":0,"x":-11.6,"y":1.6},{"r":3,"c":0,"x":-17.4,"y":-11.8},{"r":3,"c":0,"x":-13.5,"y":-25.9},{"r":3,"c":0,"x":-2.2,"y":-32.4},{"r":3,"c":0,"x":9.8,"y":-27.5},{"r":3,"c":0,"x":15.6,"y":-14.1},{"r":3,"c":0,"x":11.7,"y":0},{"r":3,"c":0,"x":0.4,"y":6.5},{"r":3,"c":0,"x":-4.2,"y":4.2},{"r":3,"c":0,"x":-6,"y":0},{"r":3,"c":0,"x":-4.2,"y":-4.2},{"r":3,"c":0,"x":0,"y":-6},{"r":3,"c":0,"x":4.2,"y":-4.2},{"r":3,"c":0,"x":6,"y":0},{"r":3,"c":0,"x":4.2,"y":4.2},{"r":3,"c":0,"x":0,"y":6},{"r":3,"c":0,"x":-4.2,"y":4.2},{"r":3,"c":0,"x":-6,"y":0},{"r":3,"c":0,"x":-5,"y":-4.1},{"r":3,"c":0,"x":6.8,"y":-9.6},{"r":3,"c":0,"x":20.5,"y":-4.6},{"r":3,"c":0,"x":28.2,"y":7.8},{"r":3,"c":0,"x":25.2,"y":20.5},{"r":3,"c":0,"x":13.4,"y":26},{"r":3,"c":0,"x":-0.3,"y":21},{"r":3,"c":0,"x":-8,"y":8.6},{"r":3,"c":0,"x":-5,"y":-4.1},{"r":3,"c":0,"x":0,"y":-6},{"r":3,"c":0,"x":4.2,"y":-4.2},{"r":3,"c":0,"x":6,"y":0},{"r":3,"c":0,"x":4.2,"y":4.2},{"r":3,"c":0,"x":0,"y":6},{"r":3,"c":0,"x":-4.2,"y":4.2},{"r":3,"c":0,"x":-6,"y":0},{"r":3,"c":0,"x":-4.2,"y":-4.2},{"r":3,"c":0,"x":0,"y":-6},{"r":3,"c":0,"x":4.2,"y":-4.2},{"r":3,"c":0,"x":5.9,"y":-0.8},

{"r":3,"c":1,"x":32.5,"y":0},{"r":3,"c":1,"x":26.8,"y":11.7},{"r":3,"c":1,"x":13,"y":16.5},{"r":3,"c":1,"x":-0.8,"y":11.7},{"r":3,"c":1,"x":-6.5,"y":0},{"r":3,"c":1,"x":-4.2,"y":-4.2},{"r":3,"c":1,"x":0,"y":-6},{"r":3,"c":1,"x":4.2,"y":-4.2},{"r":3,"c":1,"x":6,"y":0},{"r":3,"c":1,"x":4.2,"y":4.2},{"r":3,"c":1,"x":0,"y":6},{"r":3,"c":1,"x":-4.4,"y":4.8},{"r":3,"c":1,"x":-9.1,"y":-7.3},{"r":3,"c":1,"x":-3.3,"y":-20.7},{"r":3,"c":1,"x":9.6,"y":-27.6},{"r":3,"c":1,"x":22,"y":-23.9},{"r":3,"c":1,"x":26.8,"y":-11.8},{"r":3,"c":1,"x":20.9,"y":1.6},{"r":3,"c":1,"x":8.1,"y":8.5},{"r":3,"c":1,"x":-4.4,"y":4.8},{"r":3,"c":1,"x":-6,"y":0},{"r":3,"c":1,"x":-4.2,"y":-4.2},{"r":3,"c":1,"x":0,"y":-6},{"r":3,"c":1,"x":4.2,"y":-4.2},{"r":3,"c":1,"x":6,"y":0},{"r":3,"c":1,"x":4.2,"y":4.2},{"r":3,"c":1,"x":0.5,"y":6.5},{"r":3,"c":1,"x":-11.6,"y":1.8},{"r":3,"c":1,"x":-17.5,"y":-11.6},{"r":3,"c":1,"x":-13.8,"y":-25.8},{"r":3,"c":1,"x":-2.7,"y":-32.4},{"r":3,"c":1,"x":9.5,"y":-27.7},{"r":3,"c":1,"x":15.4,"y":-14.3},{"r":3,"c":1,"x":11.7,"y":-0.2},{"r":3,"c":1,"x":0.5,"y":6.5},{"r":3,"c":1,"x":-4.2,"y":4.2},{"r":3,"c":1,"x":-6,"y":0},{"r":3,"c":1,"x":-4.2,"y":-4.2},{"r":3,"c":1,"x":0,"y":-6},{"r":3,"c":1,"x":4.2,"y":-4.2},{"r":3,"c":1,"x":6,"y":0},{"r":3,"c":1,"x":5.1,"y":4},{"r":3,"c":1,"x":-6.6,"y":9.7},{"r":3,"c":1,"x":-20.4,"y":5},{"r":3,"c":1,"x":-28.3,"y":-7.3},{"r":3,"c":1,"x":-25.6,"y":-20},{"r":3,"c":1,"x":-13.9,"y":-25.7},{"r":3,"c":1,"x":-0.1,"y":-21},{"r":3,"c":1,"x":7.8,"y":-8.7},{"r":3,"c":1,"x":5.1,"y":4},{"r":3,"c":1,"x":0,"y":6},{"r":3,"c":1,"x":-4.2,"y":4.2},{"r":3,"c":1,"x":-6,"y":0},{"r":3,"c":1,"x":-4.2,"y":-4.2},{"r":3,"c":1,"x":0,"y":-6},{"r":3,"c":1,"x":4.2,"y":-4.2},{"r":3,"c":1,"x":6.4,"y":-1.1},{"r":3,"c":1,"x":2.7,"y":11.4},{"r":3,"c":1,"x":-10.1,"y":18.4},{"r":3,"c":1,"x":-24.5,"y":15.9},{"r":3,"c":1,"x":-32.1,"y":5.3},{"r":3,"c":1,"x":-28.3,"y":-7.2},{"r":3,"c":1,"x":-15.5,"y":-14.2},{"r":3,"c":1,"x":-1.1,"y":-11.7},{"r":3,"c":1,"x":6.4,"y":-1.1},{"r":3,"c":1,"x":4.2,"y":4.2},{"r":3,"c":1,"x":0,"y":6},{"r":3,"c":1,"x":-4.2,"y":4.2},{"r":3,"c":1,"x":-6,"y":0},{"r":3,"c":1,"x":-4.2,"y":-4.2},{"r":3,"c":1,"x":0,"y":-6},{"r":3,"c":1,"x":3.3,"y":-5},

{"r":3,"c":2,"x":32.5,"y":0},{"r":3,"c":2,"x":26.8,"y":11.7},{"r":3,"c":2,"x":13,"y":16.5},{"r":3,"c":2,"x":-0.8,"y":11.7},{"r":3,"c":2,"x":-6.5,"y":0},{"r":3,"c":2,"x":-4.2,"y":-4.2},{"r":3,"c":2,"x":0,"y":-6},{"r":3,"c":2,"x":4.2,"y":-4.2},{"r":3,"c":2,"x":6,"y":0},{"r":3,"c":2,"x":4.2,"y":4.2},{"r":3,"c":2,"x":0,"y":6},{"r":3,"c":2,"x":-4.6,"y":4.6},{"r":3,"c":2,"x":-8.8,"y":-7.7},{"r":3,"c":2,"x":-2.6,"y":-20.8},{"r":3,"c":2,"x":10.5,"y":-27.2},{"r":3,"c":2,"x":22.8,"y":-23},{"r":3,"c":2,"x":27,"y":-10.8},{"r":3,"c":2,"x":20.8,"y":2.4},{"r":3,"c":2,"x":7.8,"y":8.8},{"r":3,"c":2,"x":-4.6,"y":4.6},{"r":3,"c":2,"x":-6,"y":0},{"r":3,"c":2,"x":-4.2,"y":-4.2},{"r":3,"c":2,"x":0,"y":-6},{"r":3,"c":2,"x":4.2,"y":-4.2},{"r":3,"c":2,"x":6,"y":0},{"r":3,"c":2,"x":4.2,"y":4.2},{"r":3,"c":2,"x":0,"y":6.5},{"r":3,"c":2,"x":-11.7,"y":0.8},{"r":3,"c":2,"x":-16.6,"y":-12.8},{"r":3,"c":2,"x":-12,"y":-26.6},{"r":3,"c":2,"x":-0.5,"y":-32.4},{"r":3,"c":2,"x":11.4,"y":-26.9},{"r":3,"c":2,"x":16.4,"y":-13.2},{"r":3,"c":2,"x":11.7,"y":0.4},{"r":3,"c":2,"x":0,"y":6.5},{"r":3,"c":2,"x":-4.2,"y":4.2},{"r":3,"c":2,"x":-6,"y":0},{"r":3,"c":2,"x":-4.2,"y":-4.2},{"r":3,"c":2,"x":0,"y":-6},{"r":3,"c":2,"x":4.2,"y":-4.2},{"r":3,"c":2,"x":6,"y":0},{"r":3,"c":2,"x":4.8,"y":4.4},{"r":3,"c":2,"x":-7.6,"y":9.2},{"r":3,"c":2,"x":-21,"y":3.6},{"r":3,"c":2,"x":-28,"y":-9.2},{"r":3,"c":2,"x":-24.4,"y":-21.6},{"r":3,"c":2,"x":-12.2,"y":-26.6},{"r":3,"c":2,"x":1.3,"y":-21},{"r":3,"c":2,"x":8.4,"y":-8.2},{"r":3,"c":2,"x":4.8,"y":4.4},{"r":3,"c":2,"x":0,"y":6},{"r":3,"c":2,"x":-4.2,"y":4.2},{"r":3,"c":2,"x":-6,"y":0},{"r":3,"c":2,"x":-4.2,"y":-4.2},{"r":3,"c":2,"x":0,"y":-6},{"r":3,"c":2,"x":4.2,"y":-4.2},{"r":3,"c":2,"x":6.4,"y":-2},{"r":3,"c":2,"x":4.3,"y":10.8},{"r":3,"c":2,"x":-7.5,"y":17.5},{"r":3,"c":2,"x":-22,"y":13},{"r":3,"c":2,"x":-29,"y":2},{"r":3,"c":2,"x":-26,"y":-10},{"r":3,"c":2,"x":-14,"y":-15},{"r":3,"c":2,"x":-1,"y":-11.6},{"r":3,"c":2,"x":6.4,"y":-2},{"r":3,"c":2,"x":4.2,"y":4.2},{"r":3,"c":2,"x":0,"y":6},{"r":3,"c":2,"x":-4.2,"y":4.2},{"r":3,"c":2,"x":-6,"y":0},{"r":3,"c":2,"x":-4.2,"y":-4.2},{"r":3,"c":2,"x":0,"y":-6},{"r":3,"c":2,"x":3.3,"y":-5},

{"r":3,"c":3,"x":32.5,"y":0},{"r":3,"c":3,"x":26.8,"y":11.7},{"r":3,"c":3,"x":13,"y":16.5},{"r":3,"c":3,"x":-0.8,"y":11.7},{"r":3,"c":3,"x":-6.5,"y":0},{"r":3,"c":3,"x":-4.2,"y":-4.2},{"r":3,"c":3,"x":0,"y":-6},{"r":3,"c":3,"x":4.2,"y":-4.2},{"r":3,"c":3,"x":6,"y":0},{"r":3,"c":3,"x":4.2,"y":4.2},{"r":3,"c":3,"x":0,"y":6},{"r":3,"c":3,"x":-4.2,"y":4.2},{"r":3,"c":3,"x":-6.2,"y":2.1},{"r":3,"c":3,"x":-4.5,"y":-10.8},{"r":3,"c":3,"x":7.1,"y":-19.8},{"r":3,"c":3,"x":21.7,"y":-19.6},{"r":3,"c":3,"x":30.8,"y":-10.3},{"r":3,"c":3,"x":29.1,"y":2.6},{"r":3,"c":3,"x":17.6,"y":11.5},{"r":3,"c":3,"x":2.9,"y":11.4},{"r":3,"c":3,"x":-6.2,"y":2.1},{"r":3,"c":3,"x":-5.9,"y":-1},{"r":3,"c":3,"x":-4.2,"y":-4.2},{"r":3,"c":3,"x":0,"y":-6},{"r":3,"c":3,"x":4.2,"y":-4.2},{"r":3,"c":3,"x":6,"y":0},{"r":3,"c":3,"x":4.2,"y":4.2},{"r":3,"c":3,"x":0,"y":6},{"r":3,"c":3,"x":-5.2,"y":3.9},{"r":3,"c":3,"x":-7.7,"y":-8.9},{"r":3,"c":3,"x":0.5,"y":-21},{"r":3,"c":3,"x":14.4,"y":-25.4},{"r":3,"c":3,"x":26,"y":-19.5},{"r":3,"c":3,"x":28.5,"y":-6.7},{"r":3,"c":3,"x":20.3,"y":5.4},{"r":3,"c":3,"x":6.4,"y":9.8},{"r":3,"c":3,"x":-5.2,"y":3.9},{"r":3,"c":3,"x":-6,"y":0},{"r":3,"c":3,"x":-4.2,"y":-4.2},{"r":3,"c":3,"x":0,"y":-6},{"r":3,"c":3,"x":4.2,"y":-4.2},{"r":3,"c":3,"x":6,"y":0},{"r":3,"c":3,"x":4.2,"y":4.2},{"r":3,"c":3,"x":0,"y":6},{"r":3,"c":3,"x":-3.7,"y":5.4},{"r":3,"c":3,"x":-10.1,"y":-6},{"r":3,"c":3,"x":-6.2,"y":-20.1},{"r":3,"c":3,"x":5.6,"y":-28.7},{"r":3,"c":3,"x":18.5,"y":-26.7},{"r":3,"c":3,"x":24.9,"y":-15.4},{"r":3,"c":3,"x":21,"y":-1.3},{"r":3,"c":3,"x":9.2,"y":7.3},{"r":3,"c":3,"x":-3.7,"y":5.4},{"r":3,"c":3,"x":-6,"y":0},{"r":3,"c":3,"x":-4.2,"y":-4.2},{"r":3,"c":3,"x":0,"y":-6},{"r":3,"c":3,"x":4.2,"y":-4.2},{"r":3,"c":3,"x":6,"y":0},{"r":3,"c":3,"x":4.2,"y":4.2},{"r":3,"c":3,"x":-1.8,"y":6.2},{"r":3,"c":3,"x":-11.5,"y":-2.5},{"r":3,"c":3,"x":-12.2,"y":-17.1},{"r":3,"c":3,"x":-3.8,"y":-29},{"r":3,"c":3,"x":9.1,"y":-31.2},{"r":3,"c":3,"x":18.7,"y":-22.5},{"r":3,"c":3,"x":19.5,"y":-7.9},{"r":3,"c":3,"x":11,"y":4},{"r":3,"c":3,"x":-1.8,"y":6.2},{"r":3,"c":3,"x":-4.2,"y":4.2},{"r":3,"c":3,"x":-6,"y":0},{"r":3,"c":3,"x":-4.2,"y":-4.2},{"r":3,"c":3,"x":0,"y":-6},{"r":3,"c":3,"x":4.2,"y":-4.2},{"r":3,"c":3,"x":6,"y":0},{"r":3,"c":3,"x":4.2,"y":4.2},

{"r":3,"c":4,"x":26.8,"y":-11.7},{"r":3,"c":4,"x":32.5,"y":0},{"r":3,"c":4,"x":26.8,"y":11.7},{"r":3,"c":4,"x":13,"y":16.5},{"r":3,"c":4,"x":-0.8,"y":11.7},{"r":3,"c":4,"x":-6.5,"y":0},{"r":3,"c":4,"x":-4.2,"y":-4.2},{"r":3,"c":4,"x":0,"y":-6},{"r":3,"c":4,"x":4.2,"y":-4.2},{"r":3,"c":4,"x":6,"y":0},{"r":3,"c":4,"x":4.2,"y":4.2},{"r":3,"c":4,"x":0,"y":6},{"r":3,"c":4,"x":-4.2,"y":4.2},{"r":3,"c":4,"x":-6,"y":0},{"r":3,"c":4,"x":-4.2,"y":-4.2},{"r":3,"c":4,"x":0,"y":-6},{"r":3,"c":4,"x":4.2,"y":-4.2},{"r":3,"c":4,"x":6,"y":0},{"r":3,"c":4,"x":3.3,"y":5.6},{"r":3,"c":4,"x":-9.7,"y":6.5},{"r":3,"c":4,"x":-20.8,"y":-3},{"r":3,"c":4,"x":-23.5,"y":-17.4},{"r":3,"c":4,"x":-16.3,"y":-28.2},{"r":3,"c":4,"x":-3.3,"y":-29.1},{"r":3,"c":4,"x":7.8,"y":-19.5},{"r":3,"c":4,"x":10.5,"y":-5.2},{"r":3,"c":4,"x":3.3,"y":5.6},{"r":3,"c":4,"x":0,"y":6},{"r":3,"c":4,"x":-4.2,"y":4.2},{"r":3,"c":4,"x":-6,"y":0},{"r":3,"c":4,"x":-4.2,"y":-4.2},{"r":3,"c":4,"x":0,"y":-6},{"r":3,"c":4,"x":4.2,"y":-4.2},{"r":3,"c":4,"x":6,"y":0},{"r":3,"c":4,"x":4.2,"y":4.2},{"r":3,"c":4,"x":0,"y":6},{"r":3,"c":4,"x":-4.2,"y":4.2},{"r":3,"c":4,"x":-6,"y":0},{"r":3,"c":4,"x":-4.2,"y":-4.2},{"r":3,"c":4,"x":0,"y":-6},{"r":3,"c":4,"x":3.3,"y":-5.6},{"r":3,"c":4,"x":10.5,"y":5.2},{"r":3,"c":4,"x":7.8,"y":19.5},{"r":3,"c":4,"x":-3.3,"y":29.1},{"r":3,"c":4,"x":-16.3,"y":28.2},{"r":3,"c":4,"x":-23.5,"y":17.4},{"r":3,"c":4,"x":-20.8,"y":3},{"r":3,"c":4,"x":-9.7,"y":-6.5},{"r":3,"c":4,"x":3.3,"y":-5.6},{"r":3,"c":4,"x":6,"y":0},{"r":3,"c":4,"x":4.2,"y":4.2},{"r":3,"c":4,"x":0,"y":6},{"r":3,"c":4,"x":-4.2,"y":4.2},{"r":3,"c":4,"x":-6,"y":0},{"r":3,"c":4,"x":-4.2,"y":-4.2},{"r":3,"c":4,"x":0,"y":-6},{"r":3,"c":4,"x":4.2,"y":-4.2},{"r":3,"c":4,"x":6,"y":0},{"r":3,"c":4,"x":4.2,"y":4.2},{"r":3,"c":4,"x":0,"y":6},{"r":3,"c":4,"x":-4.2,"y":4.2},{"r":3,"c":4,"x":-6.5,"y":0},{"r":3,"c":4,"x":-0.8,"y":-11.7},{"r":3,"c":4,"x":13,"y":-16.5},{"r":3,"c":4,"x":26.8,"y":-11.7},{"r":3,"c":4,"x":32.5,"y":0},{"r":3,"c":4,"x":26.8,"y":11.7},

{"r":4,"c":0,"x":32.5,"y":0},{"r":4,"c":0,"x":26.8,"y":11.7},{"r":4,"c":0,"x":13,"y":16.5},{"r":4,"c":0,"x":-0.8,"y":11.7},{"r":4,"c":0,"x":-6.5,"y":0},{"r":4,"c":0,"x":-4.2,"y":-4.2},{"r":4,"c":0,"x":0,"y":-6},{"r":4,"c":0,"x":4.2,"y":-4.2},{"r":4,"c":0,"x":6,"y":0},{"r":4,"c":0,"x":4.2,"y":4.2},{"r":4,"c":0,"x":0,"y":6},{"r":4,"c":0,"x":-4.2,"y":4.2},{"r":4,"c":0,"x":-6,"y":0},{"r":4,"c":0,"x":-4.2,"y":-4.2},{"r":4,"c":0,"x":0,"y":-6},{"r":4,"c":0,"x":5.9,"y":-2.8},{"r":4,"c":0,"x":5.7,"y":10.2},{"r":4,"c":0,"x":-4.7,"y":20.5},{"r":4,"c":0,"x":-19.3,"y":22},{"r":4,"c":0,"x":-29.4,"y":13.8},{"r":4,"c":0,"x":-29.2,"y":0.8},{"r":4,"c":0,"x":-18.8,"y":-9.4},{"r":4,"c":0,"x":-4.3,"y":-10.9},{"r":4,"c":0,"x":5.9,"y":-2.8},{"r":4,"c":0,"x":6,"y":0},{"r":4,"c":0,"x":4.2,"y":4.2},{"r":4,"c":0,"x":0,"y":6},{"r":4,"c":0,"x":-4.2,"y":4.2},{"r":4,"c":0,"x":-6,"y":0},{"r":4,"c":0,"x":-4.2,"y":-4.2},{"r":4,"c":0,"x":0,"y":-6},{"r":4,"c":0,"x":4.2,"y":-4.2},{"r":4,"c":0,"x":6,"y":0},{"r":4,"c":0,"x":4.2,"y":4.2},{"r":4,"c":0,"x":0,"y":6},{"r":4,"c":0,"x":-3.8,"y":4.6},

{"r":4,"c":1,"x":32.5,"y":0},{"r":4,"c":1,"x":26.8,"y":11.7},{"r":4,"c":1,"x":13,"y":16.5},{"r":4,"c":1,"x":-0.8,"y":11.7},{"r":4,"c":1,"x":-6.5,"y":0},{"r":4,"c":1,"x":-4.2,"y":-4.2},{"r":4,"c":1,"x":0,"y":-6},{"r":4,"c":1,"x":4.2,"y":-4.2},{"r":4,"c":1,"x":6,"y":0},{"r":4,"c":1,"x":4.2,"y":4.2},{"r":4,"c":1,"x":0,"y":6},{"r":4,"c":1,"x":-4.6,"y":4.6},{"r":4,"c":1,"x":-8.9,"y":-7.7},{"r":4,"c":1,"x":-2.6,"y":-20.8},{"r":4,"c":1,"x":10.5,"y":-27.3},{"r":4,"c":1,"x":22.8,"y":-23.1},{"r":4,"c":1,"x":27.2,"y":-10.8},{"r":4,"c":1,"x":20.9,"y":2.4},{"r":4,"c":1,"x":7.8,"y":8.8},{"r":4,"c":1,"x":-4.6,"y":4.6},{"r":4,"c":1,"x":-6,"y":0},{"r":4,"c":1,"x":-4.2,"y":-4.2},{"r":4,"c":1,"x":0,"y":-6},{"r":4,"c":1,"x":4.2,"y":-4.2},{"r":4,"c":1,"x":6,"y":0},{"r":4,"c":1,"x":4.2,"y":4.2},{"r":4,"c":1,"x":0.1,"y":6.5},{"r":4,"c":1,"x":-11.7,"y":0.9},{"r":4,"c":1,"x":-16.6,"y":-12.8},{"r":4,"c":1,"x":-12,"y":-26.7},{"r":4,"c":1,"x":-0.4,"y":-32.5},{"r":4,"c":1,"x":11.4,"y":-26.9},{"r":4,"c":1,"x":16.3,"y":-13.2},{"r":4,"c":1,"x":14.3,"y":-3.4},{"r":4,"c":1,"x":12.6,"y":-0.6},

{"r":4,"c":2,"x":32.5,"y":0},{"r":4,"c":2,"x":26.8,"y":11.7},{"r":4,"c":2,"x":13,"y":16.5},{"r":4,"c":2,"x":-0.8,"y":11.7},{"r":4,"c":2,"x":-6.5,"y":0},{"r":4,"c":2,"x":-4.2,"y":-4.2},{"r":4,"c":2,"x":0,"y":-6},{"r":4,"c":2,"x":4.2,"y":-4.2},{"r":4,"c":2,"x":6,"y":0},{"r":4,"c":2,"x":4.2,"y":4.2},{"r":4,"c":2,"x":0,"y":6},{"r":4,"c":2,"x":-4.7,"y":4.4},{"r":4,"c":2,"x":-8.4,"y":-8.2},{"r":4,"c":2,"x":-1.6,"y":-21},{"r":4,"c":2,"x":11.8,"y":-27},{"r":4,"c":2,"x":23.8,"y":-22},{"r":4,"c":2,"x":27.6,"y":-9.6},{"r":4,"c":2,"x":20.8,"y":3},{"r":4,"c":2,"x":7.5,"y":9},{"r":4,"c":2,"x":-4.7,"y":4.4},{"r":4,"c":2,"x":-6,"y":0},{"r":4,"c":2,"x":-4.2,"y":-4.2},{"r":4,"c":2,"x":0,"y":-6},{"r":4,"c":2,"x":4.2,"y":-4.2},{"r":4,"c":2,"x":6,"y":0},{"r":4,"c":2,"x":4.2,"y":4.2},{"r":4,"c":2,"x":0.6,"y":6.4},{"r":4,"c":2,"x":-11.6,"y":0.2},{"r":4,"c":2,"x":-15.5,"y":-13.8},{"r":4,"c":2,"x":-10,"y":-27.5},{"r":4,"c":2,"x":2,"y":-32.3},{"r":4,"c":2,"x":14,"y":-28},{"r":4,"c":2,"x":22,"y":-18},{"r":4,"c":2,"x":23.5,"y":-8},{"r":4,"c":2,"x":18.2,"y":1.2},

{"r":4,"c":3,"x":32.5,"y":0},{"r":4,"c":3,"x":26.8,"y":11.7},{"r":4,"c":3,"x":13,"y":16.5},{"r":4,"c":3,"x":-0.8,"y":11.7},{"r":4,"c":3,"x":-6.5,"y":0},{"r":4,"c":3,"x":-4.2,"y":-4.2},{"r":4,"c":3,"x":0,"y":-6},{"r":4,"c":3,"x":4.2,"y":-4.2},{"r":4,"c":3,"x":6,"y":0},{"r":4,"c":3,"x":4.2,"y":4.2},{"r":4,"c":3,"x":0,"y":6},{"r":4,"c":3,"x":-4.2,"y":4.2},{"r":4,"c":3,"x":-6.2,"y":1.9},{"r":4,"c":3,"x":-4.2,"y":-10.9},{"r":4,"c":3,"x":7.5,"y":-19.6},{"r":4,"c":3,"x":22.1,"y":-19.1},{"r":4,"c":3,"x":31,"y":-9.6},{"r":4,"c":3,"x":29.1,"y":3.2},{"r":4,"c":3,"x":17.3,"y":11.9},{"r":4,"c":3,"x":2.7,"y":11.4},{"r":4,"c":3,"x":-6.2,"y":1.9},{"r":4,"c":3,"x":-5.9,"y":-1},{"r":4,"c":3,"x":-4.2,"y":-4.2},{"r":4,"c":3,"x":0,"y":-6},{"r":4,"c":3,"x":4.2,"y":-4.2},{"r":4,"c":3,"x":6,"y":0},{"r":4,"c":3,"x":4.2,"y":4.2},{"r":4,"c":3,"x":0,"y":6},{"r":4,"c":3,"x":-5.4,"y":3.7},{"r":4,"c":3,"x":-7.3,"y":-9.2},{"r":4,"c":3,"x":1.4,"y":-21},{"r":4,"c":3,"x":15.5,"y":-24.8},{"r":4,"c":3,"x":26.8,"y":-18.4},{"r":4,"c":3,"x":28.7,"y":-5.5},{"r":4,"c":3,"x":26.8,"y":-1.1},

{"r":4,"c":4,"x":26.8,"y":-11.7},{"r":4,"c":4,"x":32.5,"y":0},{"r":4,"c":4,"x":26.8,"y":11.7},{"r":4,"c":4,"x":13,"y":16.5},{"r":4,"c":4,"x":-0.8,"y":11.7},{"r":4,"c":4,"x":-6.5,"y":0},{"r":4,"c":4,"x":-4.2,"y":-4.2},{"r":4,"c":4,"x":0,"y":-6},{"r":4,"c":4,"x":4.2,"y":-4.2},{"r":4,"c":4,"x":6,"y":0},{"r":4,"c":4,"x":4.2,"y":4.2},{"r":4,"c":4,"x":0,"y":6},{"r":4,"c":4,"x":-4.2,"y":4.2},{"r":4,"c":4,"x":-5.8,"y":0},{"r":4,"c":4,"x":-3.3,"y":-3.3},{"r":4,"c":4,"x":-0.3,"y":-4.4},{"r":4,"c":4,"x":3,"y":-3.2},{"r":4,"c":4,"x":4.4,"y":0},{"r":4,"c":4,"x":3,"y":3.2},{"r":4,"c":4,"x":-0.3,"y":4.4},{"r":4,"c":4,"x":-3.3,"y":3.3},{"r":4,"c":4,"x":-6.5,"y":0},{"r":4,"c":4,"x":-0.8,"y":-11.7},{"r":4,"c":4,"x":13,"y":-16.5},{"r":4,"c":4,"x":26.8,"y":-11.7},{"r":4,"c":4,"x":32.5,"y":0},{"r":4,"c":4,"x":26.8,"y":11.7}
]},
"facet":{
 "row":{"field":"r","type":"ordinal","header":{"labels":false,"title":null}},
 "column":{"field":"c","type":"ordinal","header":{"title":null,"labelExpr":"['λ=0.02,γ=0.2','λ=0.22,γ=0.2','λ=0.5,γ=5','λ=0.5,γ=10','Schw'][datum.value]","labelFontSize":22,"labelFont":"Liberation Sans","labelColor":"black","labelPadding":14}}
},
"spec":{
 "width":236.8,"height":224.6,
 "layer":[
  {"transform":[{"filter":"isValid(datum.q)"}],"mark":{"type":"rule","color":"black","strokeWidth":1,"strokeDash":[2,3]},"encoding":{"x":{"datum":0,"type":"quantitative"}}},
  {"transform":[{"filter":"isValid(datum.q)"}],"mark":{"type":"rule","color":"black","strokeWidth":1,"strokeDash":[2,3]},"encoding":{"y":{"datum":0,"type":"quantitative"}}},
  {"transform":[{"filter":"isValid(datum.x)"}],
   "mark":{"type":"line","interpolate":"catmull-rom","strokeWidth":1.2,"clip":true},
   "encoding":{
    "x":{"field":"x","type":"quantitative","scale":{"domain":[-50,50],"nice":false,"zero":false},"axis":{"values":[-40,-20,0,20,40],"labelExpr":"toString(datum.value)","title":"xcosφ","labelPadding":17,"titlePadding":3}},
    "y":{"field":"y","type":"quantitative","scale":{"domain":[-50,50],"nice":false,"zero":false},"axis":{"values":[-40,-20,0,20,40],"labelExpr":"toString(datum.value)","title":"xsinφ","labelPadding":16,"titlePadding":3}},
    "color":{"field":"c","type":"nominal","scale":{"domain":[0,1,2,3,4],"range":["#0000ff","#1e90ff","#00c000","#c080ff","#ff0000"]},"legend":null},
    "order":{"value":null}
   }},
  {"transform":[{"filter":"isValid(datum.q) && datum.c < 4"}],"mark":{"type":"text","text":"q","font":"Liberation Serif","fontStyle":"italic","fontSize":23,"align":"right","baseline":"alphabetic","color":"black"},"encoding":{"x":{"datum":-24.1,"type":"quantitative"},"y":{"datum":-45,"type":"quantitative"}}},
  {"transform":[{"filter":"isValid(datum.q) && datum.c < 4"}],"mark":{"type":"text","font":"Liberation Sans","fontSize":22,"align":"left","baseline":"alphabetic","color":"black"},"encoding":{"x":{"datum":-23.7,"type":"quantitative"},"y":{"datum":-45,"type":"quantitative"},"text":{"field":"q"}}},
  {"transform":[{"filter":"datum.c == 4 && isValid(datum.z)"}],"mark":{"type":"text","text":"q","font":"Liberation Serif","fontStyle":"italic","fontSize":23,"align":"right","baseline":"alphabetic","color":"black"},"encoding":{"x":{"datum":8.4,"type":"quantitative"},"y":{"datum":-45,"type":"quantitative"}}},
  {"transform":[{"filter":"datum.c == 4 && isValid(datum.z)"}],"mark":{"type":"text","font":"Liberation Sans","fontSize":22,"align":"left","baseline":"alphabetic","color":"black"},"encoding":{"x":{"datum":8.8,"type":"quantitative"},"y":{"datum":-45,"type":"quantitative"},"text":{"field":"q"}}},
  {"transform":[{"filter":"datum.c == 4 && isValid(datum.z)"}],"mark":{"type":"text","font":"Liberation Sans","fontSize":22,"align":"right","baseline":"alphabetic","color":"black"},"encoding":{"x":{"datum":-2.8,"type":"quantitative"},"y":{"datum":-45,"type":"quantitative"},"text":{"field":"z"}}},
  {"transform":[{"filter":"datum.c == 4 && isValid(datum.e)"}],"mark":{"type":"text","text":"E","font":"Liberation Serif","fontStyle":"italic","fontSize":23,"align":"right","baseline":"alphabetic","color":"black"},"encoding":{"x":{"datum":-22.2,"type":"quantitative"},"y":{"datum":36.8,"type":"quantitative"}}},
  {"transform":[{"filter":"datum.c == 4 && isValid(datum.e)"}],"mark":{"type":"text","font":"Liberation Sans","fontSize":22,"align":"left","baseline":"alphabetic","color":"black"},"encoding":{"x":{"datum":-21.8,"type":"quantitative"},"y":{"datum":36.8,"type":"quantitative"},"text":{"field":"e"}}}
 ]
},
"config":{
 "view":{"stroke":"black","strokeWidth":2.5},
 "axis":{"grid":false,"domain":false,"tickSize":-5,"tickColor":"black","tickWidth":1,"labelFont":"Liberation Sans","labelFontSize":22,"labelColor":"black","titleFont":"Liberation Sans","titleFontSize":22,"titleFontWeight":"normal","titleColor":"black"}
}
}
